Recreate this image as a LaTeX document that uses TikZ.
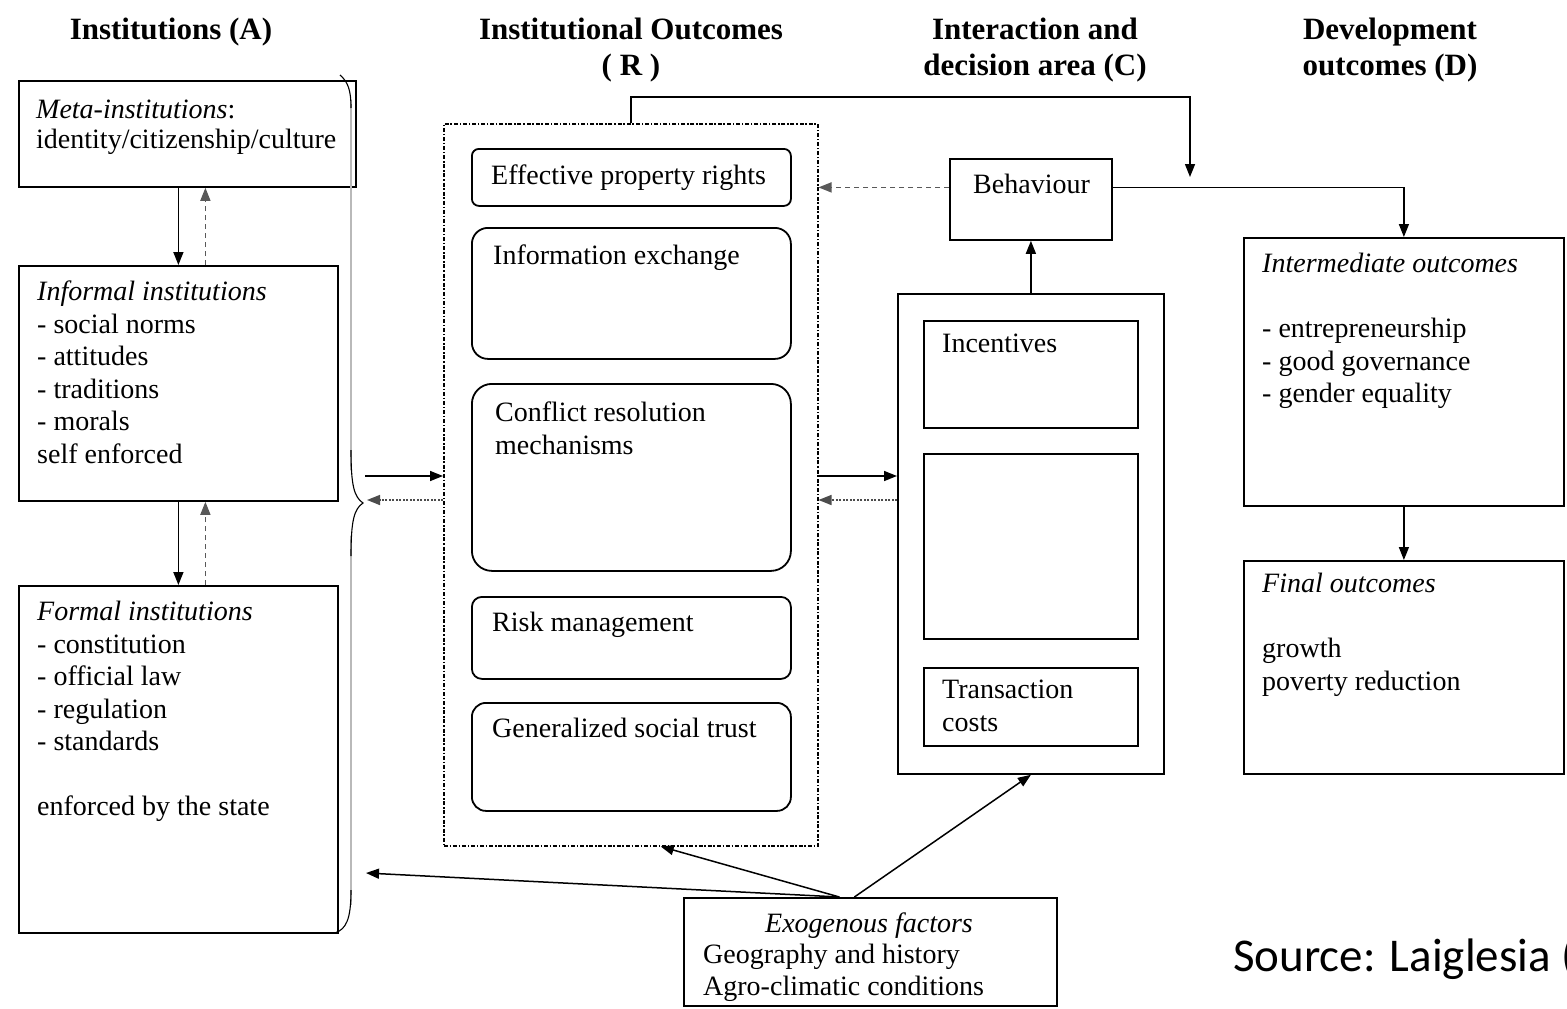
\documentclass[tikz,border=0pt]{standalone}
\usepackage{fontspec}
\setmainfont{Liberation Serif}
\newfontfamily\srcfont{Carlito}
\usetikzlibrary{arrows.meta,positioning}

\begin{document}
\begin{tikzpicture}[x=1pt, y=-1pt,
    body/.style={font=\fontsize{28}{32.5}\selectfont, inner sep=0pt, align=left, anchor=north west},
    hdr/.style={font=\fontsize{31}{36}\selectfont\bfseries, inner sep=0pt, align=center, anchor=north},
    box/.style={draw, line width=1.8pt, inner sep=0pt, anchor=north west},
    rbox/.style={box, rounded corners=#1},
    arr/.style={line width=1.5pt, -{Triangle[length=13pt,width=10pt]}},
    darr/.style={arr, gray!70!black, dash pattern=on 5pt off 4pt},
    dotarr/.style={arr, gray!60!black, dash pattern=on 2pt off 1.5pt}]
    \useasboundingbox (0,0) rectangle (1567,1009);
    \fill[white] (0,0) rectangle (1567,1009);

    % column headers
    \node[hdr] (hA) at (171,18) {Institutions (A)};
    \node[hdr] (hR) at (631,18) {Institutional Outcomes\\( R )};
    \node[hdr] (hC) at (1035,18) {Interaction and\\decision area (C)};
    \node[hdr] (hD) at (1390,18) {Development\\outcomes (D)};

    % institutions (A)
    \node[box, minimum width=337, minimum height=106] (meta) at (18,80) {};
    \node[box, minimum width=319, minimum height=235] (informal) at (18,265) {};
    \node[box, minimum width=319, minimum height=347] (formal) at (18,585) {};
    \node[body] (metatxt) at (36,100) {\textit{Meta-institutions}:\\[-3pt]identity/citizenship/culture};
    \node[body] (informaltxt) at (37,281) {\textit{Informal institutions}\\- social norms\\- attitudes\\- traditions\\- morals\\self enforced};
    \node[body] (formaltxt) at (37,601) {\textit{Formal institutions}\\- constitution\\- official law\\- regulation\\- standards\\[32.5pt]enforced by the state};

    \draw[arr] (informal.north |- meta.south) -- (informal.north);
    \draw[darr] ([xshift=27pt]informal.north) -- ([xshift=27pt]informal.north |- meta.south);
    \draw[arr] (informal.south) -- (formal.north);
    \draw[darr] ([xshift=27pt]formal.north) -- ([xshift=27pt]informal.south);

    % brace round the three institution boxes
    \coordinate (btip) at (363,503);
    \coordinate (bin) at (365,476);
    \coordinate (bout) at (367,500);
    \coordinate (bexo) at (366,873);
    \draw[gray!55, line width=2.6pt] (351,100) -- (351,470) (351,536) -- (351,905);
    \draw[line width=1.1pt] (340,75) .. controls (348,82) and (351,90) .. (351,108)
        (351,450) .. controls (351,485) and (354,497) .. (btip)
        .. controls (354,509) and (351,521) .. (351,556)
        (351,890) .. controls (351,920) and (346,929) .. (335,933);

    % institutional outcomes (R)
    \node[box, line width=1.5pt, dash pattern=on 4pt off 1.8pt on 1.5pt off 1.8pt,
        minimum width=374, minimum height=722] (R) at (443,123) {};
    \node[rbox=7pt, minimum width=319, minimum height=57] (epr) at (471,148) {};
    \node[rbox=16pt, minimum width=319, minimum height=131] (info) at (471,227) {};
    \node[rbox=20pt, minimum width=319, minimum height=187] (conflict) at (471,383) {};
    \node[rbox=10pt, minimum width=319, minimum height=82] (risk) at (471,596) {};
    \node[rbox=14pt, minimum width=319, minimum height=108] (trust) at (471,702) {};
    \node[body] (eprtxt) at (491,165) {Effective property rights};
    \node[body] (infotxt) at (493,245) {Information exchange};
    \node[body] (conflicttxt) at (495,402) {Conflict resolution\\mechanisms};
    \node[body] (risktxt) at (492,612) {Risk management};
    \node[body] (trusttxt) at (492,718) {Generalized social trust};

    \draw[arr] (bin) -- (bin -| R.west);
    \draw[dotarr] (bout -| R.west) -- (bout);

    % interaction and decision area (C)
    \node[box, minimum width=162, minimum height=81] (beh) at (949,158) {};
    \node[body] (behtxt) at (973,174) {Behaviour};
    \node[box, minimum width=266, minimum height=480] (C) at (897,293) {};
    \node[box, minimum width=214, minimum height=107] (incent) at (923,320) {};
    \node[box, minimum width=214, minimum height=185] (blank) at (923,453) {};
    \node[box, minimum width=214, minimum height=78] (trans) at (923,667) {};
    \node[body] (incenttxt) at (942,334) {Incentives};
    \node[body] (transtxt) at (942,680) {Transaction\\costs};

    \draw[arr] (bin -| R.east) -- (bin -| C.west);
    \draw[dotarr] (bout -| C.west) -- (bout -| R.east);
    \draw[arr] (C.north) -- (beh.south);
    \draw[darr] ([yshift=12pt]beh.west) -- ([yshift=12pt]beh.west -| R.east);

    % development outcomes (D)
    \node[box, minimum width=320, minimum height=268] (inter) at (1243,237) {};
    \node[box, minimum width=320, minimum height=213] (final) at (1243,560) {};
    \node[body] (intertxt) at (1262,253) {\textit{Intermediate outcomes}\\[32.5pt]- entrepreneurship\\- good governance\\- gender equality};
    \node[body] (finaltxt) at (1262,573) {\textit{Final outcomes}\\[32.5pt]growth\\poverty reduction};

    \draw[arr] ([yshift=12pt]beh.east) -| (inter.north);
    \draw[arr] (inter.south) -- (final.north);
    \coordinate (fb) at (1190,177);
    \draw[arr] (R.north) -- ++(0,-26) -| (fb);

    % exogenous factors
    \node[box, minimum width=373, minimum height=108] (exo) at (683,897) {};
    \node[font=\fontsize{28}{32.5}\selectfont\itshape, inner sep=0pt, anchor=base] (exotitle) at (869,932) {Exogenous factors};
    \node[body] (exotxt) at (703,944) {Geography and history\\[-1pt]Agro-climatic conditions};
    \draw[arr] ([xshift=-31pt]exo.north) -- ([xshift=30pt]R.south);
    \draw[arr] ([xshift=-31pt]exo.north) -- (bexo);
    \draw[arr] ([xshift=-16pt]exo.north) -- (C.south);

    \node[font=\srcfont\fontsize{47}{50}\selectfont, inner sep=0pt, anchor=base west] (src) at (1233,971) {Source: Laiglesia (};
\end{tikzpicture}
\end{document}
